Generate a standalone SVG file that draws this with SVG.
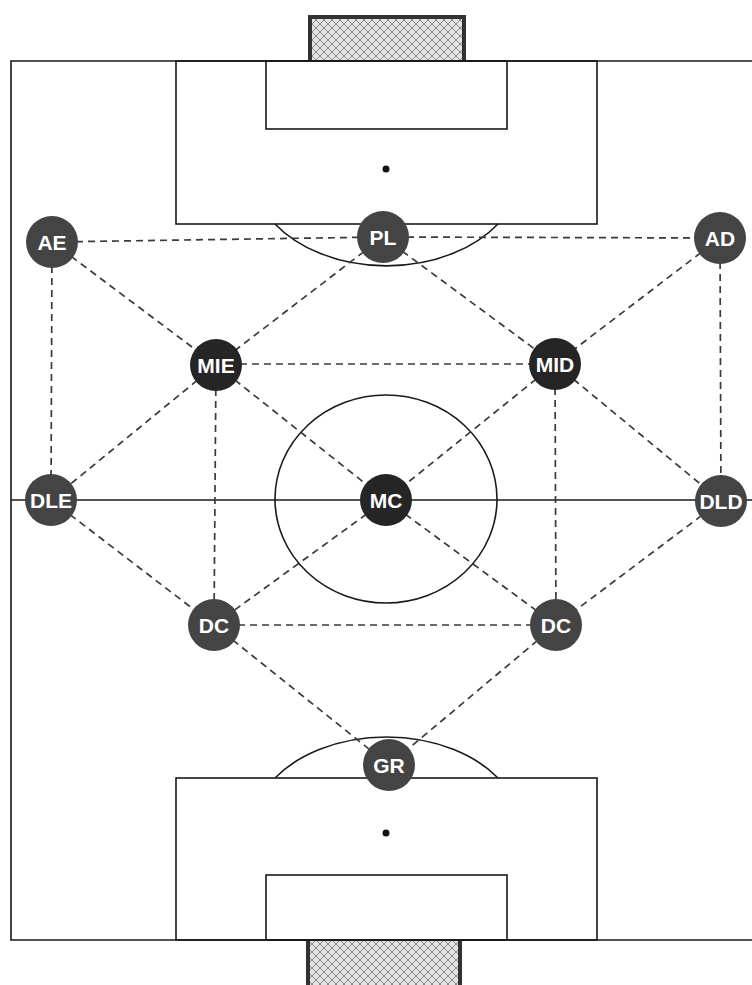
<svg xmlns="http://www.w3.org/2000/svg" width="752" height="985" viewBox="0 0 752 985">
<defs>
<pattern id="net" width="8" height="8" patternUnits="userSpaceOnUse">
<rect width="8" height="8" fill="#e4e4e4"/>
<path d="M0,0 L8,8 M8,0 L0,8" stroke="#8a8a8a" stroke-width="1"/>
</pattern>
</defs>
<style>
.line{fill:none;stroke:#1a1a1a;stroke-width:1.6}
.dash{fill:none;stroke:#3a3a3a;stroke-width:1.7;stroke-dasharray:7 5}
.post{fill:none;stroke:#333;stroke-width:4}
.node{fill:#444}
.dark{fill:#252525}
.lbl{font-family:"Liberation Sans",Arial,sans-serif;font-weight:bold;font-size:21px;fill:#fff;text-anchor:middle;dominant-baseline:central}
</style>
<rect width="752" height="985" fill="#fff"/>
<g id="pitch">
<rect x="310" y="17" width="154" height="44" fill="url(#net)"/>
<path class="post" d="M310,61 V17 H464 V61"/>
<rect x="308" y="940" width="152" height="45" fill="url(#net)"/>
<path class="post" d="M308,940 V990 M460,940 V990"/>
<path class="line" d="M752,61 H11 V940 H752"/>
<line class="line" x1="11" y1="500" x2="752" y2="500"/>
<rect class="line" x="176" y="61" width="421" height="163"/>
<rect class="line" x="266" y="61" width="241" height="68"/>
<circle cx="386" cy="169" r="3.5" fill="#111"/>
<path class="line" d="M275,224 A135,96 0 0 0 498,224"/>
<rect class="line" x="176" y="778" width="421" height="162"/>
<rect class="line" x="266" y="875" width="241" height="65"/>
<circle cx="386" cy="833" r="3.5" fill="#111"/>
<path class="line" d="M275,778 A135,94 0 0 1 498,778"/>
<ellipse class="line" cx="386" cy="499" rx="111" ry="104"/>
</g>
<g id="connectors">
<line class="dash" x1="52" y1="242" x2="383" y2="237"/>
<line class="dash" x1="383" y1="237" x2="720" y2="238"/>
<line class="dash" x1="52" y1="242" x2="216" y2="365"/>
<line class="dash" x1="52" y1="242" x2="51" y2="500"/>
<line class="dash" x1="383" y1="237" x2="216" y2="365"/>
<line class="dash" x1="383" y1="237" x2="555" y2="364"/>
<line class="dash" x1="720" y1="238" x2="555" y2="364"/>
<line class="dash" x1="720" y1="238" x2="721" y2="501"/>
<line class="dash" x1="216" y1="364" x2="555" y2="364"/>
<line class="dash" x1="216" y1="365" x2="51" y2="500"/>
<line class="dash" x1="216" y1="365" x2="386" y2="500"/>
<line class="dash" x1="216" y1="365" x2="214" y2="625"/>
<line class="dash" x1="555" y1="364" x2="386" y2="500"/>
<line class="dash" x1="555" y1="364" x2="721" y2="501"/>
<line class="dash" x1="555" y1="364" x2="556" y2="625"/>
<line class="dash" x1="51" y1="500" x2="214" y2="625"/>
<line class="dash" x1="386" y1="500" x2="214" y2="625"/>
<line class="dash" x1="386" y1="500" x2="556" y2="625"/>
<line class="dash" x1="721" y1="501" x2="556" y2="625"/>
<line class="dash" x1="214" y1="625" x2="556" y2="625"/>
<line class="dash" x1="214" y1="625" x2="389" y2="765"/>
<line class="dash" x1="556" y1="625" x2="389" y2="765"/>
</g>
<g id="AE"><circle class="node" cx="52" cy="242" r="26"/><text class="lbl" x="52" y="242">AE</text></g>
<g id="PL"><circle class="node" cx="383" cy="237" r="26"/><text class="lbl" x="383" y="237">PL</text></g>
<g id="AD"><circle class="node" cx="720" cy="238" r="26"/><text class="lbl" x="720" y="238">AD</text></g>
<g id="MIE"><circle class="dark" cx="216" cy="365" r="26"/><text class="lbl" x="216" y="365">MIE</text></g>
<g id="MID"><circle class="dark" cx="555" cy="364" r="26"/><text class="lbl" x="555" y="364">MID</text></g>
<g id="DLE"><circle class="node" cx="51" cy="500" r="26"/><text class="lbl" x="51" y="500">DLE</text></g>
<g id="MC"><circle class="dark" cx="386" cy="500" r="26"/><text class="lbl" x="386" y="500">MC</text></g>
<g id="DLD"><circle class="node" cx="721" cy="501" r="26"/><text class="lbl" x="721" y="501">DLD</text></g>
<g id="DC1"><circle class="node" cx="214" cy="625" r="26"/><text class="lbl" x="214" y="625">DC</text></g>
<g id="DC2"><circle class="node" cx="556" cy="625" r="26"/><text class="lbl" x="556" y="625">DC</text></g>
<g id="GR"><circle class="node" cx="389" cy="765" r="26"/><text class="lbl" x="389" y="765">GR</text></g>
</svg>
